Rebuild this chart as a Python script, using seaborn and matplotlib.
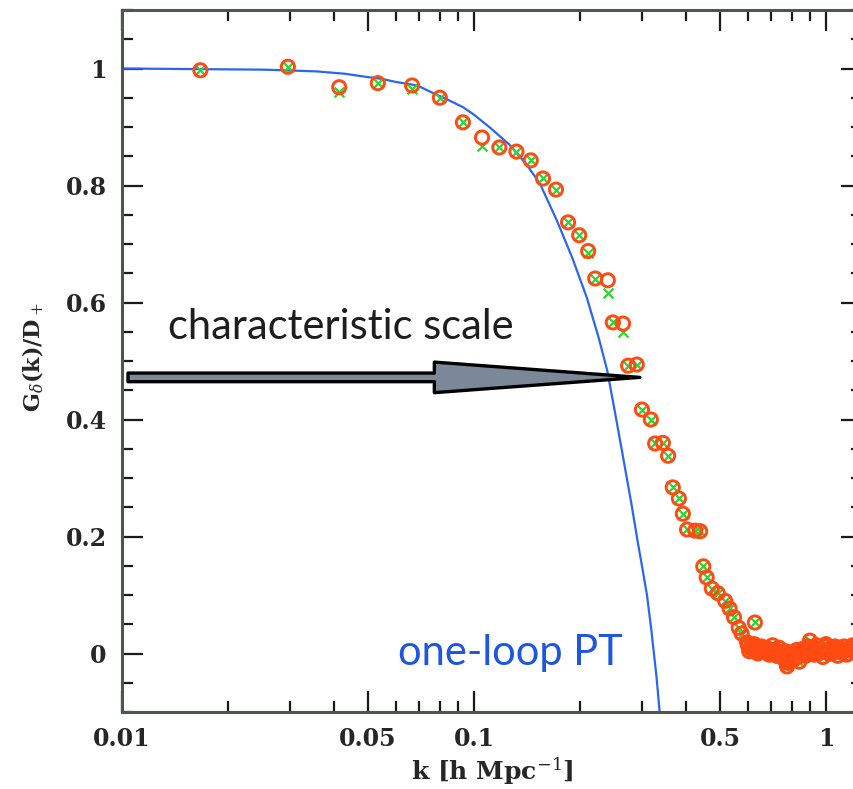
import numpy as np
import pandas as pd
import matplotlib
matplotlib.use("Agg")
import matplotlib.pyplot as plt
import seaborn as sns
from matplotlib.ticker import FixedLocator, FixedFormatter, NullFormatter, MultipleLocator

# ---------------- data ----------------
# isolated measurements (k < 0.63)
k_main = [0.0167, 0.0296, 0.0414, 0.0533, 0.0667, 0.080, 0.093, 0.1054, 0.118, 0.132,
          0.145, 0.157, 0.171, 0.185, 0.199, 0.211, 0.221, 0.240, 0.248, 0.265,
          0.274, 0.290, 0.300, 0.318, 0.327, 0.344, 0.356, 0.367, 0.382, 0.392,
          0.403, 0.425, 0.439, 0.448, 0.458, 0.474, 0.493, 0.517, 0.532, 0.548,
          0.565, 0.576, 0.597, 0.628, 0.775, 0.90]
g_main_orange = [0.997, 1.003, 0.968, 0.975, 0.971, 0.950, 0.908, 0.882, 0.865, 0.858,
                 0.843, 0.812, 0.793, 0.737, 0.715, 0.688, 0.641, 0.638, 0.566, 0.564,
                 0.492, 0.494, 0.417, 0.400, 0.359, 0.360, 0.338, 0.284, 0.265, 0.239,
                 0.212, 0.210, 0.209, 0.149, 0.130, 0.111, 0.103, 0.090, 0.077, 0.062,
                 0.044, 0.034, 0.019, 0.053, -0.022, 0.022]
g_main_green = [0.997, 1.003, 0.960, 0.975, 0.965, 0.950, 0.908, 0.868, 0.865, 0.858,
                0.843, 0.812, 0.793, 0.737, 0.715, 0.685, 0.641, 0.617, 0.566, 0.549,
                0.492, 0.494, 0.417, 0.400, 0.359, 0.360, 0.338, 0.284, 0.265, 0.239,
                0.212, 0.210, 0.209, 0.149, 0.130, 0.111, 0.103, 0.090, 0.077, 0.062,
                0.044, 0.034, 0.019, 0.053, -0.022, 0.022]

# dense band of measurements near zero (k > 0.6)
k_band = [0.600, 0.610, 0.620, 0.635, 0.645, 0.660, 0.670, 0.685, 0.700, 0.710,
          0.725, 0.740, 0.755, 0.770, 0.785, 0.800, 0.815, 0.830, 0.850, 0.865,
          0.880, 0.900, 0.915, 0.935, 0.950, 0.970, 0.990, 1.010, 1.030, 1.050,
          1.070, 1.090, 1.110, 1.135, 1.155, 1.180, 1.200,
          0.605, 0.625, 0.640, 0.655, 0.675, 0.690, 0.705, 0.720, 0.735, 0.750,
          0.765, 0.780, 0.795, 0.810, 0.825, 0.840, 0.860, 0.875, 0.890, 0.905,
          0.925, 0.940, 0.960, 0.980, 1.000, 1.020, 1.040, 1.060, 1.080, 1.100,
          1.125, 1.145, 1.170, 1.190]
g_band = [0.014, 0.010, 0.006, 0.012, 0.004, 0.009, 0.002, 0.008, 0.000, 0.006,
          -0.004, 0.002, -0.008, -0.002, -0.012, -0.004, 0.000, -0.006, 0.002, -0.002,
          0.006, 0.000, 0.010, 0.004, 0.008, 0.002, 0.012, 0.006, 0.000, 0.008,
          0.004, 0.010, 0.002, 0.006, 0.000, 0.008, 0.004,
          0.004, 0.016, 0.000, 0.012, 0.010, -0.002, 0.014, 0.004, 0.010, -0.006,
          0.004, -0.016, 0.002, -0.010, 0.006, -0.014, 0.008, -0.004, 0.012, 0.004,
          -0.002, 0.014, 0.002, -0.006, 0.016, 0.000, 0.004, 0.012, -0.004, 0.002,
          0.012, -0.002, 0.010, 0.014]

# one-loop perturbation theory curve
k_pt = [0.010, 0.0255, 0.0358, 0.043, 0.049, 0.055, 0.060, 0.069, 0.0765, 0.084,
        0.093, 0.100, 0.111, 0.126, 0.141, 0.154, 0.172, 0.190, 0.209, 0.226,
        0.239, 0.251, 0.264, 0.280, 0.292, 0.300, 0.310, 0.319, 0.330, 0.338]
g_pt = [1.000, 0.998, 0.995, 0.991, 0.986, 0.982, 0.977, 0.971, 0.958, 0.947,
        0.934, 0.921, 0.899, 0.870, 0.836, 0.803, 0.740, 0.677, 0.609, 0.540,
        0.484, 0.415, 0.342, 0.256, 0.190, 0.150, 0.100, 0.040, -0.040, -0.110]

x_ticks = [0.01, 0.05, 0.1, 0.5, 1]
x_tick_labels = ["0.01", "0.05", "0.1", "0.5", "1"]
x_minor = [0.02, 0.03, 0.04, 0.06, 0.07, 0.08, 0.09, 0.2, 0.3, 0.4, 0.6, 0.7, 0.8, 0.9]
y_ticks = [0, 0.2, 0.4, 0.6, 0.8, 1.0]
y_tick_labels = ["0", "0.2", "0.4", "0.6", "0.8", "1"]

# annotation anchors
arrow_start_k, arrow_tip_k, arrow_y = 0.0104, 0.296, 0.472
label_scale_pos = (0.01351, 0.538)
label_pt_pos = (0.0608, -0.019)

# ---------------- plot ----------------
sns.set_theme(style="ticks")
plt.rcParams["font.family"] = ["DejaVu Serif"]
plt.rcParams["mathtext.fontset"] = "dejavuserif"

fig = plt.figure(figsize=(8.54, 7.89), dpi=100)
ax = fig.add_axes([122 / 854, 77 / 789, 740 / 854, 702 / 789])

pts = pd.DataFrame({"k": k_main + k_band,
                    "orange": g_main_orange + g_band,
                    "green": g_main_green + g_band})
curve = pd.DataFrame({"k": k_pt, "g": g_pt})

sns.lineplot(data=curve, x="k", y="g", color="#2a66f0", linewidth=1.6,
             sort=False, estimator=None, ax=ax, zorder=2)
sns.scatterplot(data=pts, x="k", y="green", marker="x", color="#2fd62f",
                s=50, linewidth=1.6, ax=ax, zorder=3)
sns.scatterplot(data=pts, x="k", y="orange", marker="o", facecolor="none",
                edgecolor="#ff4a12", s=90, linewidth=2.1, ax=ax, zorder=4)

ax.set_xscale("log")
ax.set_xlim(0.01, 10 ** (-2 + 740 / 352))
ax.set_ylim(-0.1, 1.1)

ax.xaxis.set_major_locator(FixedLocator(x_ticks))
ax.xaxis.set_major_formatter(FixedFormatter(x_tick_labels))
ax.xaxis.set_minor_locator(FixedLocator(x_minor))
ax.xaxis.set_minor_formatter(NullFormatter())
ax.yaxis.set_major_locator(FixedLocator(y_ticks))
ax.yaxis.set_major_formatter(FixedFormatter(y_tick_labels))
ax.yaxis.set_minor_locator(MultipleLocator(0.05))

ax.tick_params(which="both", direction="in", top=True, right=True,
               color="#1a1a1a", width=1.6)
ax.tick_params(which="major", length=15, labelsize=17, pad=11)
ax.tick_params(which="minor", length=8)
for lab in ax.get_xticklabels() + ax.get_yticklabels():
    lab.set_fontweight("bold")

for sp in ax.spines.values():
    sp.set_linewidth(2.2)
    sp.set_color("#4a5a4a")

ax.set_xlabel(r"k [h Mpc$^{-1}$]", fontsize=18, fontweight="bold", va="center")
ax.xaxis.set_label_coords(0.5, -(771 - 712) / 702)
ax.set_ylabel(r"G$_\delta$(k)/D$_+$", fontsize=16, fontweight="bold", va="center")
ax.yaxis.set_label_coords(-(122 - 33) / 740, 0.506)

ax.annotate("", xy=(arrow_tip_k, arrow_y), xytext=(arrow_start_k, arrow_y),
            arrowprops=dict(arrowstyle="simple,head_length=14.8,head_width=2.2,tail_width=0.62",
                            mutation_scale=10, fc="#7a8898", ec="black", lw=2.4,
                            shrinkA=0, shrinkB=0),
            zorder=5)

ax.text(*label_scale_pos, "characteristic scale", family="Lato", fontsize=30,
        color="#1e1e1e", ha="left", va="baseline")
ax.text(*label_pt_pos, "one-loop PT", family="Lato", fontsize=30,
        color="#1d56e0", ha="left", va="baseline")

fig.savefig("out.png", dpi=100)
